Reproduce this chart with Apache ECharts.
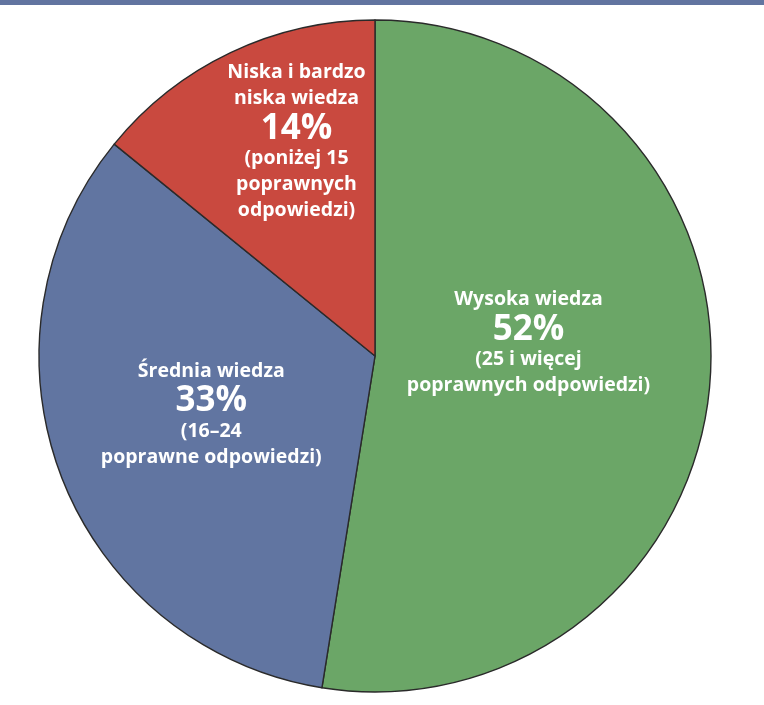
<!DOCTYPE html>
<html><head><meta charset="utf-8">
<script src="https://cdn.jsdelivr.net/npm/echarts@6/dist/echarts.min.js"></script>
<style>html,body{margin:0;padding:0;background:#fff}#c{width:764px;height:705px}</style>
</head><body><div id="c"></div>
<script>
const categories = ['Wysoka wiedza', 'Średnia wiedza', 'Niska i bardzo\nniska wiedza'];
const values = [52, 33, 14];
const notes = ['(25 i więcej\npoprawnych odpowiedzi)', '(16–24\npoprawne odpowiedzi)', '(poniżej 15\npoprawnych\nodpowiedzi)'];
const colors = ['#6ba667', '#6175a1', '#c9493f'];
const offsets = [[-17, -27], [-4, -3], [-5, -60]];

const chart = echarts.init(document.getElementById('c'));
const font = '"Open Sans", sans-serif';
chart.setOption({
  animation: false,
  graphic: [{type: 'rect', shape: {x: 0, y: 0, width: 764, height: 5}, style: {fill: '#6274a0'}}],
  series: [{
    type: 'pie',
    center: [375, 356],
    radius: [0, 336],
    startAngle: 90,
    clockwise: true,
    itemStyle: {borderColor: '#2a2a2a', borderWidth: 1.4},
    label: {
      position: 'inside',
      color: '#fff',
      formatter: p => '{n|' + p.name.split('\n').join('}\n{n|') + '}\n{p|' + p.value + '%}\n{n|' + notes[p.dataIndex].split('\n').join('}\n{n|') + '}',
      rich: {
        n: {fontFamily: font, fontWeight: 'bold', fontSize: 19.5, lineHeight: 26, color: '#fff', align: 'center'},
        p: {fontFamily: font, fontWeight: 'bold', fontSize: 35, lineHeight: 34, color: '#fff', align: 'center'}
      }
    },
    labelLine: {show: false},
    data: values.map((v, i) => ({
      name: categories[i], value: v,
      itemStyle: {color: colors[i]},
      label: {offset: offsets[i]}
    }))
  }]
});
</script></body></html>
